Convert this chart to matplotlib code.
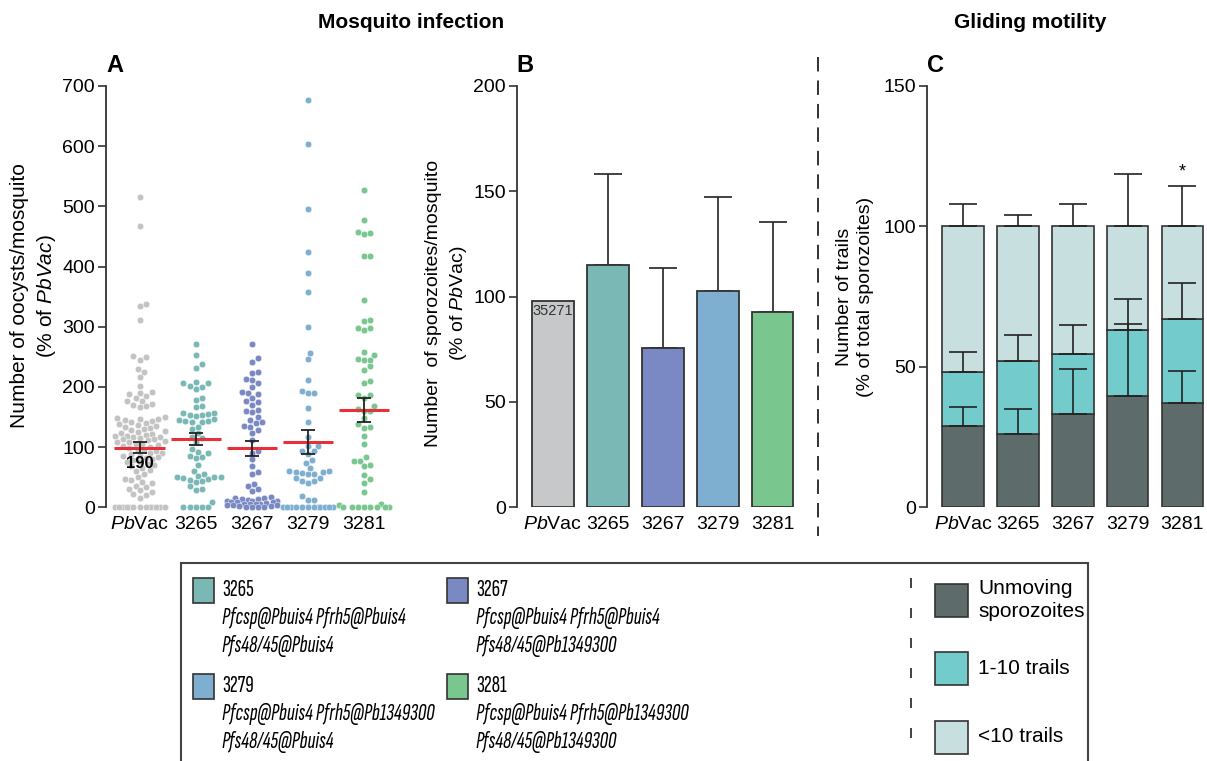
import matplotlib
matplotlib.use("Agg")
import matplotlib.pyplot as plt
import numpy as np
from matplotlib.patches import Rectangle
from matplotlib.lines import Line2D

plt.rcParams['font.family'] = ['Liberation Sans', 'DejaVu Sans']
plt.rcParams['mathtext.fontset'] = 'custom'
plt.rcParams['mathtext.it'] = 'Liberation Sans:italic'
plt.rcParams['mathtext.rm'] = 'Liberation Sans'
LEGEND_FONT = ['Sofia Sans Extra Condensed', 'Barlow Condensed', 'Liberation Sans', 'DejaVu Sans']

# ---------------- data ----------------
groups = ["PbVac", "3265", "3267", "3279", "3281"]
group_labels = [r"$\it{Pb}$Vac", "3265", "3267", "3279", "3281"]
group_colors = ["#c7c8ca", "#7ab8b6", "#7a89c3", "#7eafd1", "#79c68f"]
dot_colors = ["#c3c3c3", "#7ab8b6", "#7a89c3", "#7eafd1", "#79c68f"]

# A: oocysts per mosquito (% of PbVac)
oocysts_pbvac = [516, 467, 338, 335, 311, 251, 250, 245, 229, 225, 217, 202, 191, 190, 189,
                 185, 182, 177, 176, 172, 170, 168, 167,
                 150, 148, 147, 146, 145, 143, 142, 140, 138, 136, 135, 133, 132, 130,
                 128, 126, 125, 124, 122, 120, 119, 118, 117, 116, 115, 114, 113, 112, 110,
                 109, 108, 106, 105, 103, 102, 101,
                 98, 96, 95, 93, 91, 90, 88, 86, 85, 83, 82, 80, 78, 76, 75, 72, 70, 68, 65, 62, 60,
                 55, 50, 47, 45, 42, 40, 36, 33, 30, 28, 25, 22, 20, 15,
                 0, 0, 0, 0, 0, 0, 0, 0, 0, 0, 0, 0, 0]
oocysts_3265 = [271, 253, 238, 231, 208, 207, 206, 201, 200, 197, 181, 178, 168, 166, 157,
                156, 155, 154, 153, 152, 146, 145, 144, 143, 142, 141, 134, 130, 123, 117,
                115, 109, 97, 92, 90, 86, 84, 82, 70, 61, 55, 52, 51, 50, 50, 49, 47, 46,
                43, 42, 35, 30, 29, 9, 0, 0, 0, 0, 0]
oocysts_3267 = [272, 248, 241, 224, 223, 213, 212, 206, 200, 191, 190, 188, 181, 177, 175,
                170, 161, 160, 158, 150, 145, 141, 140, 135, 133, 129, 123, 112, 93, 91,
                80, 69, 58, 55, 39, 35, 31, 27,
                17, 16, 15, 14, 13, 12, 11, 10, 10, 9, 8, 8, 7, 6, 6, 5, 5, 4, 3, 3, 2, 2,
                1, 1, 0, 0]
oocysts_3279 = [677, 604, 496, 425, 390, 358, 300, 256, 246, 212, 193, 190, 190, 165, 141,
                117, 102, 102, 94, 94, 89, 78, 73, 65, 61, 60, 59, 58, 57, 56, 55, 48, 48,
                44, 44, 40, 19, 12, 12, 0, 0, 0, 0, 0, 0, 0, 0, 0, 0, 0, 0]
oocysts_3281 = [528, 478, 458, 455, 454, 417, 417, 345, 311, 309, 298, 298, 294, 258, 253,
                247, 245, 245, 234, 228, 210, 206, 187, 187, 182, 168, 164, 160, 160, 148,
                138, 134, 131, 119, 106, 84, 77, 77, 71, 69, 54, 47, 40, 26, 5, 3,
                0, 0, 0, 0, 0, 0, 0, 0]
oocysts = [oocysts_pbvac, oocysts_3265, oocysts_3267, oocysts_3279, oocysts_3281]
oocyst_mean = [99, 113, 98, 108, 162]
oocyst_sem = [9, 10, 12, 20, 20]

# B: sporozoites per mosquito (% of PbVac)
spz_mean = [98, 115, 75.5, 102.5, 92.5]
spz_sd = [0, 43, 38, 45, 43]

# C: gliding motility (% of total sporozoites)
unmoving = [28.9, 26.1, 33.2, 39.8, 37.0]
unmoving_sd = [6.9, 9.0, 16.2, 25.4, 11.6]
trails_1_10 = [19.1, 26.0, 21.3, 23.5, 29.9]
trails_1_10_sd = [7.4, 9.2, 10.4, 11.0, 13.1]
trails_top = [52.0, 47.9, 45.5, 36.7, 33.1]
trails_top_sd = [7.9, 3.9, 8.0, 18.8, 14.3]

# ---------------- layout helpers ----------------
W, H = 1207, 761
fig = plt.figure(figsize=(W / 100, H / 100), dpi=100)


def fx(x):
    return x / W


def fy(y):
    return 1 - y / H


def add_axes(left, right, top, bottom):
    return fig.add_axes([fx(left), fy(bottom), fx(right) - fx(left), fy(top) - fy(bottom)])


def style(ax, ymax, step):
    for s in ("top", "right", "bottom"):
        ax.spines[s].set_visible(False)
    ax.spines["left"].set_linewidth(1.3)
    ax.spines["left"].set_color("#333333")
    ax.set_ylim(0, ymax)
    ax.set_yticks(np.arange(0, ymax + 1, step))
    ax.tick_params(axis="y", length=6, width=1.2, color="#333333", labelsize=14, pad=2)
    ax.tick_params(axis="x", length=0, labelsize=14, pad=6)
    ax.set_xticks(range(len(groups)))
    ax.set_xticklabels(group_labels)
    ax.patch.set_alpha(0)


def swarm(vals, ypx, xpx, d=6.2, max_off=25):
    vals = np.asarray(vals, float)
    order = np.argsort(vals)
    offs = np.zeros(len(vals))
    placed = []
    steps = np.arange(0, max_off + 0.01, d / 3)
    cands = [0.0]
    for s in steps[1:]:
        cands += [s, -s]
    for i in order:
        y = vals[i] * ypx
        best, best_d = 0.0, -1
        for c in cands:
            md = min((np.hypot(c - px, y - py) for px, py in placed), default=1e9)
            if md >= d:
                best = c
                break
            if md > best_d:
                best, best_d = c, md
        placed.append((best, y))
        offs[i] = best / xpx
    return offs


# ---------------- panel A ----------------
axA = add_axes(106, 395, 86, 507.3)
axA.set_xlim(-0.6, 4.55)
style(axA, 700, 100)
for i, vals in enumerate(oocysts):
    off = swarm(vals, 421.3 / 700, 56)
    axA.scatter(i + off, vals, s=22, color=dot_colors[i], edgecolors="white",
                linewidths=0.3, zorder=2, clip_on=False)
    axA.hlines(oocyst_mean[i], i - 0.45, i + 0.45, color="#e8303a", lw=2.2, zorder=3)
    axA.errorbar(i, oocyst_mean[i], yerr=oocyst_sem[i], color="#222222", lw=1.3,
                 capsize=5, capthick=1.3, zorder=4)
axA.text(0, 72, "190", ha="center", va="center", fontsize=12, fontweight="bold", zorder=5)

# ---------------- panel B ----------------
axB = add_axes(517, 800, 86, 507.3)
axB.set_xlim(-0.655, 4.5)
style(axB, 200, 50)
xs = np.arange(len(groups))
axB.bar(xs, spz_mean, width=0.76, color=group_colors, edgecolor="#333333", lw=1.3, zorder=2)
for i in range(1, len(groups)):
    axB.errorbar(i, spz_mean[i], yerr=[[0], [spz_sd[i]]], color="#222222", lw=1.2,
                 capsize=10, capthick=1.2, zorder=1)
axB.text(0, 93, "35271", ha="center", va="center", fontsize=10.5, color="#333333", zorder=3)

# ---------------- panel C ----------------
axC = add_axes(927, 1207, 86, 507.3)
axC.set_xlim(-0.66, 4.45)
style(axC, 150, 50)
c_unmov, c_1_10, c_top = "#5e6b6b", "#74cbcc", "#c7dfdf"
mid = np.array(unmoving) + np.array(trails_1_10)
axC.bar(xs, unmoving, width=0.76, color=c_unmov, edgecolor="#333333", lw=1.2, zorder=2)
axC.bar(xs, trails_1_10, bottom=unmoving, width=0.76, color=c_1_10, edgecolor="#333333",
        lw=1.2, zorder=2)
axC.bar(xs, trails_top, bottom=mid, width=0.76, color=c_top, edgecolor="#333333",
        lw=1.2, zorder=2)
tops = [unmoving, mid, mid + np.array(trails_top)]
sds = [unmoving_sd, trails_1_10_sd, trails_top_sd]
for t, s in zip(tops, sds):
    for i in range(len(groups)):
        axC.errorbar(i, t[i], yerr=[[0], [s[i]]], color="#222222", lw=1.2,
                     capsize=10, capthick=1.2, zorder=3)
axC.text(4, tops[2][4] + trails_top_sd[4] + 2, "*", ha="center", va="bottom", fontsize=13)

# ---------------- labels and titles ----------------
fig.text(fx(34), fy(296), "Number of oocysts/mosquito\n(% of $\\it{PbVac}$)", rotation=90,
         ha="center", va="center", fontsize=15, linespacing=1.3)
fig.text(fx(447), fy(303), "Number  of sporozoites/mosquito\n(% of $\\it{Pb}$Vac)", rotation=90,
         ha="center", va="center", fontsize=14, linespacing=1.35)
fig.text(fx(855), fy(297), "Number of trails\n(% of total sporozoites)", rotation=90,
         ha="center", va="center", fontsize=14, linespacing=1.35)
fig.text(fx(411), fy(23), "Mosquito infection", ha="center", va="center", fontsize=15,
         fontweight="bold")
fig.text(fx(1030), fy(23), "Gliding motility", ha="center", va="center", fontsize=15,
         fontweight="bold")
for lbl, x in (("A", 115), ("B", 525), ("C", 935)):
    fig.text(fx(x), fy(66), lbl, ha="center", va="center", fontsize=17, fontweight="bold")

fig.add_artist(Line2D([fx(818), fx(818)], [fy(57), fy(536)], color="#222222", lw=1.3,
                      linestyle=(0, (8, 5))))

# ---------------- legend box ----------------
fig.add_artist(Rectangle((fx(181), fy(770)), fx(1088) - fx(181), fy(563) - fy(770),
                         fill=False, edgecolor="#444444", lw=1.5))
fig.add_artist(Line2D([fx(911), fx(911)], [fy(578), fy(756)], color="#222222", lw=1.2,
                      linestyle=(0, (6, 12))))

strain_info = [
    ("3265", "Pfcsp@Pbuis4 Pfrh5@Pbuis4", "Pfs48/45@Pbuis4", 193, 578),
    ("3267", "Pfcsp@Pbuis4 Pfrh5@Pbuis4", "Pfs48/45@Pb1349300", 447, 578),
    ("3279", "Pfcsp@Pbuis4 Pfrh5@Pb1349300", "Pfs48/45@Pbuis4", 193, 674),
    ("3281", "Pfcsp@Pbuis4 Pfrh5@Pb1349300", "Pfs48/45@Pb1349300", 447, 674),
]
for k, (name, l1, l2, x, y) in enumerate(strain_info):
    fig.add_artist(Rectangle((fx(x), fy(y + 25)), fx(21), 25 / H, facecolor=group_colors[k + 1],
                             edgecolor="#333333", lw=1.2))
    fig.text(fx(x + 29), fy(y + 12), name, ha="left", va="center", fontsize=17,
             family=LEGEND_FONT)
    fig.text(fx(x + 29), fy(y + 40), l1, ha="left", va="center", fontsize=17, style="italic",
             family=LEGEND_FONT)
    fig.text(fx(x + 29), fy(y + 68), l2, ha="left", va="center", fontsize=17, style="italic",
             family=LEGEND_FONT)

motility_info = [("Unmoving\nsporozoites", c_unmov, 584), ("1-10 trails", c_1_10, 652),
                 ("<10 trails", c_top, 721)]
for text, col, y in motility_info:
    fig.add_artist(Rectangle((fx(935), fy(y + 33)), fx(33), 33 / H, facecolor=col,
                             edgecolor="#333333", lw=1.2))
    fig.text(fx(978), fy(y + 16), text, ha="left", va="center", fontsize=15, linespacing=1.25)

fig.savefig("out.png", dpi=100)
